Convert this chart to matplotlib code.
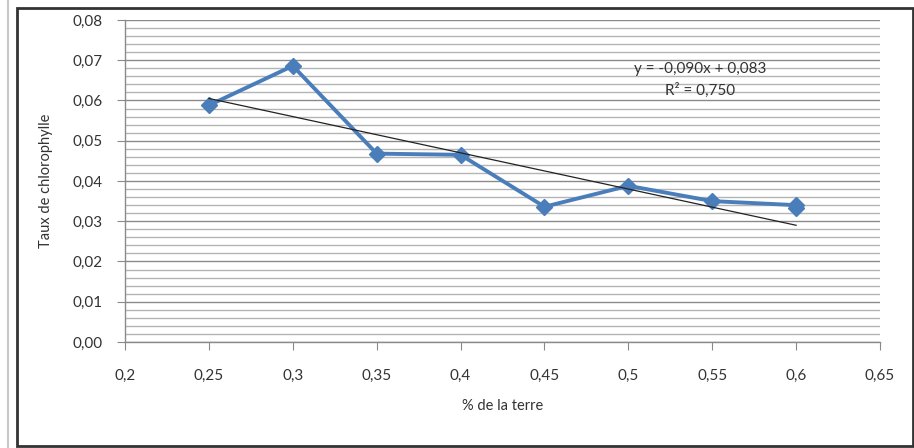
import numpy as np
import matplotlib.pyplot as plt
from matplotlib.ticker import MultipleLocator, FuncFormatter
from matplotlib.patches import Rectangle
from matplotlib.lines import Line2D

# data
terre = [0.25, 0.30, 0.35, 0.40, 0.45, 0.50, 0.55, 0.60, 0.60]
chloro = [0.0588, 0.0686, 0.0468, 0.0465, 0.0336, 0.0388, 0.0350, 0.0340, 0.0332]

# trend line as printed on the chart
slope = -0.090
intercept = 0.083
eq_text = "y = -0,090x + 0,083"
r2_text = "R² = 0,750"

plt.rcParams['font.family'] = ['Lato', 'DejaVu Sans']

fig = plt.figure(figsize=(9.14, 4.48), dpi=100)
ax = fig.add_axes([0.1368, 0.2366, 0.8260, 0.7188])

blue = '#4a7ebb'
ax.plot(terre, chloro, color=blue, linewidth=2.8, marker='D', markersize=8,
        markerfacecolor=blue, markeredgecolor=blue, zorder=3)

xt = np.array([min(terre), max(terre)])
ax.plot(xt, slope * xt + intercept, color='#222222', linewidth=0.9, zorder=4)

ax.text(0.762, 0.87, eq_text + "\n" + r2_text, transform=ax.transAxes,
        ha='center', va='top', fontsize=11, color='#333333', linespacing=1.6)

ax.set_xlim(0.2, 0.65)
ax.set_ylim(0, 0.08)
ax.xaxis.set_major_locator(MultipleLocator(0.05))
ax.yaxis.set_major_locator(MultipleLocator(0.01))
ax.yaxis.set_minor_locator(MultipleLocator(0.002))

def fmt_x(v, pos):
    s = ('%.2f' % v).rstrip('0')
    return s.replace('.', ',')

ax.xaxis.set_major_formatter(FuncFormatter(fmt_x))
ax.yaxis.set_major_formatter(FuncFormatter(lambda v, p: ('%.2f' % v).replace('.', ',')))

ax.grid(True, which='major', axis='y', color='#8a8a8a', linewidth=1.0)
ax.grid(True, which='minor', axis='y', color='#b4b4b4', linewidth=1.0)
ax.set_axisbelow(True)

for s in ['top', 'right']:
    ax.spines[s].set_visible(False)
for s in ['left', 'bottom']:
    ax.spines[s].set_color('#8a8a8a')
    ax.spines[s].set_linewidth(1.0)

ax.tick_params(axis='both', which='major', length=6, color='#8a8a8a',
               labelsize=11, labelcolor='#333333', pad=10)
ax.tick_params(axis='y', which='minor', length=0)
ax.tick_params(axis='x', pad=13)

ax.set_xlabel("% de la terre", fontsize=10.5, color='#333333', labelpad=12)
ax.set_ylabel("Taux de chlorophylle", fontsize=10.5, color='#333333', labelpad=14)

# outer chart frame
fig.patches.append(Rectangle((17 / 914, 2 / 448), 896 / 914, 438 / 448,
                             transform=fig.transFigure, fill=False,
                             edgecolor='#333333', linewidth=2))
fig.lines.append(Line2D([8 / 914, 8 / 914], [0, 1], transform=fig.transFigure,
                        color='#c8c8c8', linewidth=1.5))

fig.savefig('out.png', dpi=100)
